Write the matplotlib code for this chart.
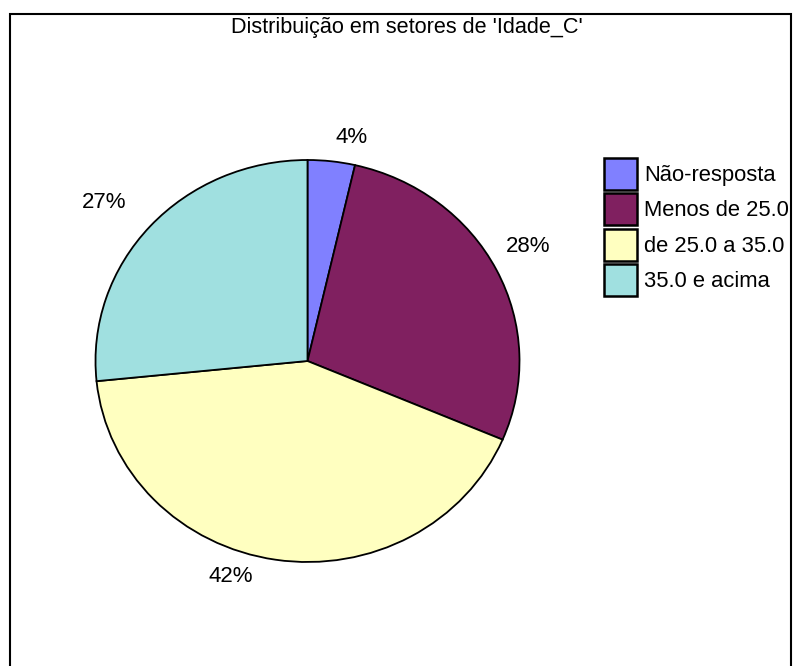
import matplotlib
matplotlib.use("Agg")
import matplotlib.pyplot as plt
from matplotlib.patches import Rectangle, Patch

plt.rcParams['font.family'] = ['Liberation Sans', 'DejaVu Sans']

# data
categorias = ['Não-resposta', 'Menos de 25.0', 'de 25.0 a 35.0', '35.0 e acima']
percentuais = [3.6, 27.8, 42.0, 26.6]
cores = ['#8080FF', '#802060', '#FFFFC0', '#A0E0E0']
titulo = "Distribuição em setores de 'Idade_C'"

# where the original program put the % labels (pie data units), same order as slices
pos_rotulos = [(0.21, 1.11), (1.04, 0.57), (-0.36, -1.07), (-0.96, 0.79)]

W, H = 794, 666
fig = plt.figure(figsize=(W / 100, H / 100), dpi=100)

# outer frame (runs past right/bottom edge like the original)
fig.add_artist(Rectangle((10 / W, -0.05), (791 - 10) / W, 1.05 - 14 / H,
                         transform=fig.transFigure, fill=False,
                         edgecolor='black', linewidth=1.5))

fig.text(407 / W, 1 - 28 / H, titulo, ha='center', va='center', fontsize=15.6)

# pie axes, slightly wider than tall as in the reference
ax = fig.add_axes([95.5 / W, (H - 562) / H, 424 / W, 402 / H])
wedges, textos, autotextos = ax.pie(
    percentuais, colors=cores, startangle=90, counterclock=False,
    autopct='%.0f%%', pctdistance=1.17,
    wedgeprops=dict(edgecolor='black', linewidth=1.3),
    textprops=dict(fontsize=16))
for t, p in zip(autotextos, pos_rotulos):
    t.set_position(p)
ax.set_aspect('auto')
ax.set_xlim(-1, 1)
ax.set_ylim(-1, 1)
ax.axis('off')

handles = [Patch(facecolor=c, edgecolor='black', linewidth=1.8) for c in cores]
fig.legend(handles, categorias, loc='upper left',
           bbox_to_anchor=(604 / W, 1 - 158 / H), frameon=False,
           fontsize=15.8, handlelength=1.5, handleheight=1.85,
           handletextpad=0.33, labelspacing=0.17, borderpad=0,
           borderaxespad=0)

fig.savefig('out.png', dpi=100)
